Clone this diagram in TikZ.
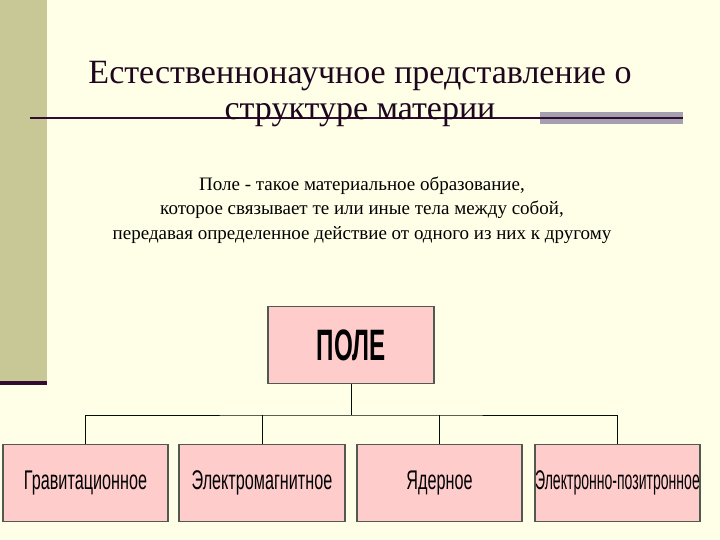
\documentclass[tikz,border=0pt]{standalone}
\usepackage{fontspec}
\setmainfont{Liberation Serif}
\newfontfamily\serifface{Liberation Serif}
\newfontfamily\boxfont{Liberation Sans}
\definecolor{bg}{RGB}{255,255,232}
\definecolor{olive}{RGB}{200,200,150}
\definecolor{dpurple}{RGB}{50,10,50}
\definecolor{pinkf}{RGB}{255,204,204}
\definecolor{edge}{RGB}{80,90,80}
\definecolor{greybar}{RGB}{165,160,175}
\tikzset{
  pbox/.style={draw=edge,line width=1.5pt,fill=pinkf,minimum height=77pt,inner sep=0pt},
  conn/.style={draw=black!70!green!20!black,line width=0.9pt},
  ttl/.style={font=\serifface\fontsize{34}{38}\selectfont,text=dpurple!60!black},
}
\newcommand{\narrow}[1]{\scalebox{0.6}[1]{#1}}
\begin{document}
\begin{tikzpicture}[x=1pt,y=-1pt]
\useasboundingbox (0,0) rectangle (720,540);
\fill[bg] (0,0) rectangle (720,540);
\fill[olive] (0,0) rectangle (47,381);
\fill[dpurple] (0,381) rectangle (47,385);
\fill[greybar] (540,112) rectangle (683,124);
\draw[dpurple,line width=1.2pt] (30,118) -- (683,118);
\node[ttl] (t1) at (360,76) {Естественнонаучное представление о};
\node[ttl] (t2) at (360,115) {структуре материи};
\node[font=\serifface\fontsize{19}{24.5}\selectfont,align=center] (sub) at (362,210)
 {Поле - такое материальное образование,\\которое связывает те или иные тела между собой,\\передавая определенное действие от одного из них к другому};
\node[pbox,minimum width=166pt] (pole) at (351,345) {\boxfont\fontsize{44}{48}\selectfont\bfseries\scalebox{0.55}[1]{ПОЛЕ}};
\node[pbox,minimum width=165pt] (b1) at (85.5,483) {\boxfont\fontsize{27}{30}\selectfont\narrow{Гравитационное}};
\node[pbox,minimum width=166pt] (b2) at (262,483) {\boxfont\fontsize{27}{30}\selectfont\narrow{Электромагнитное}};
\node[pbox,minimum width=165pt] (b3) at (439.5,483) {\boxfont\fontsize{27}{30}\selectfont\narrow{Ядерное}};
\node[pbox,minimum width=165pt] (b4) at (617.5,483) {\boxfont\fontsize{27}{30}\selectfont\scalebox{0.52}[1]{Электронно-позитронное}};
\coordinate (hub) at (351,415);
\draw[conn] (pole.south) -- (hub);
\draw[conn] (b1.north) |- (hub) -| (b4.north);
\draw[conn] (b2.north) -- (b2.north |- hub);
\draw[conn] (b3.north) -- (b3.north |- hub);
\end{tikzpicture}
\end{document}
